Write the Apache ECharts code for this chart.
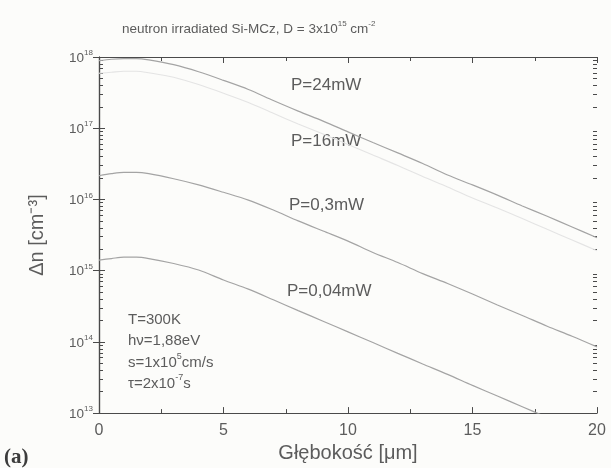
<!DOCTYPE html>
<html>
<head>
<meta charset="utf-8">
<script src="https://cdn.jsdelivr.net/npm/echarts@6/dist/echarts.min.js"></script>
<style>
html,body{margin:0;padding:0;background:#fcfcfa;}
#c{width:611px;height:468px;}
</style>
</head>
<body>
<div id="c"></div>
<script>
// depth [μm]
const depth = [0, 0.5, 1, 1.5, 2, 3, 4, 5, 6, 7, 8, 9, 10, 11, 12, 13, 14, 15, 16, 17, 18, 19, 20];
// Δn [cm^-3]
const p24mW = [8.9e17, 9.3e17, 9.5e17, 9.5e17, 9.1e17, 7.8e17, 6.2e17, 4.7e17, 3.5e17, 2.45e17, 1.74e17, 1.26e17, 8.9e16, 6.3e16, 4.5e16, 3.2e16, 2.2e16, 1.6e16, 1.15e16, 8.1e15, 5.8e15, 4.1e15, 2.9e15];
const p16mW = [5.9e17, 6.1e17, 6.3e17, 6.3e17, 6.0e17, 5.2e17, 4.1e17, 3.1e17, 2.3e17, 1.62e17, 1.15e17, 8.3e16, 5.9e16, 4.2e16, 3.0e16, 2.1e16, 1.5e16, 1.05e16, 7.6e15, 5.4e15, 3.8e15, 2.7e15, 1.9e15];
const p03mW = [2.15e16, 2.3e16, 2.4e16, 2.4e16, 2.3e16, 1.95e16, 1.6e16, 1.26e16, 9.8e15, 7.1e15, 5.0e15, 3.6e15, 2.6e15, 1.8e15, 1.3e15, 9.1e14, 6.6e14, 4.7e14, 3.3e14, 2.35e14, 1.66e14, 1.2e14, 8.5e13];
const p004mW = [1.41e15, 1.48e15, 1.55e15, 1.55e15, 1.48e15, 1.26e15, 1.02e15, 7.4e14, 5.5e14, 3.9e14, 2.75e14, 1.95e14, 1.38e14, 9.8e13, 6.9e13, 4.9e13, 3.5e13, 2.45e13, 1.74e13, 1.23e13, 8.7e12, null, null];
const seriesNames = ['P=24mW', 'P=16mW', 'P=0,3mW', 'P=0,04mW'];
const xTicks = [0, 5, 10, 15, 20];

const pairs = arr => depth.map((x, i) => [x, arr[i]]).filter(p => p[1] !== null);

// log-space minor tick positions (2..9 x 10^n)
const minorLog = [];
for (let d = 13; d < 18; d++) for (let m = 2; m <= 9; m++) minorLog.push(d + Math.log10(m));

const axisCol = '#4a4a4a';
const txtCol = '#5c5c5c';
const lineCol = '#a4a4a4';
const FF = 'Liberation Sans';
const axisRich = {
  b: {fontSize: 13.5, color: txtCol, fontFamily: FF, lineHeight: 16, verticalAlign: 'bottom'},
  s: {fontSize: 8, color: txtCol, fontFamily: FF, lineHeight: 16, verticalAlign: 'top'}
};
const gRich = {
  b: {fontSize: 15, fill: txtCol, fontFamily: FF, lineHeight: 18, verticalAlign: 'bottom'},
  s: {fontSize: 9, fill: txtCol, fontFamily: FF, lineHeight: 18, verticalAlign: 'top'}
};

const grid = {left: 99, right: 14, top: 57, bottom: 47};

const chart = echarts.init(document.getElementById('c'), null, {renderer: 'canvas'});
const baseY = {
  min: 1e13, max: 1e18, logBase: 10,
  axisLine: {show: true, lineStyle: {color: axisCol, width: 1.2}},
  splitLine: {show: false}
};
chart.setOption({
  backgroundColor: '#fcfcfa',
  animation: false,
  title: {
    text: '{a|neutron irradiated Si-MCz, D = 3x10}{s|15}{a| cm}{s|-2}',
    left: 117, top: 15,
    textStyle: {
      fontWeight: 'normal',
      rich: {
        a: {fontSize: 13.5, fontWeight: 'normal', color: txtCol, fontFamily: FF, lineHeight: 16, verticalAlign: 'bottom'},
        s: {fontSize: 8, fontWeight: 'normal', color: txtCol, fontFamily: FF, lineHeight: 16, verticalAlign: 'top'}
      }
    }
  },
  grid: grid,
  xAxis: [{
    type: 'value', min: 0, max: 20, interval: 5, position: 'bottom',
    axisLine: {show: true, onZero: false, lineStyle: {color: axisCol, width: 1.2}},
    axisTick: {show: true, inside: true, length: 6, lineStyle: {color: axisCol}},
    minorTick: {show: true, splitNumber: 2, length: 4, lineStyle: {color: axisCol}},
    splitLine: {show: false},
    axisLabel: {color: txtCol, fontSize: 16, fontFamily: FF, margin: 9,
      customValues: xTicks},
    name: 'Głębokość [μm]', nameLocation: 'middle', nameGap: 26,
    nameTextStyle: {color: txtCol, fontSize: 20, fontFamily: FF}
  }, {
    type: 'value', min: 0, max: 20, interval: 5, position: 'top',
    axisLine: {show: true, onZero: false, lineStyle: {color: axisCol, width: 1.2}},
    axisTick: {show: true, inside: true, length: 6, lineStyle: {color: axisCol}},
    minorTick: {show: true, splitNumber: 2, length: 4, lineStyle: {color: axisCol}},
    splitLine: {show: false},
    axisLabel: {show: false}
  }],
  yAxis: [Object.assign({}, baseY, {
    type: 'log', position: 'left',
    axisTick: {show: true, inside: true, length: 6, lineStyle: {color: axisCol}},
    axisLabel: {
      margin: 6,
      formatter: v => '{b|10}{s|' + Math.round(Math.log10(v)) + '}',
      rich: axisRich
    },
    name: 'Δn [cm⁻³]', nameLocation: 'middle', nameGap: 52, nameRotate: 90,
    nameTextStyle: {color: txtCol, fontSize: 20, fontFamily: FF}
  }), Object.assign({}, baseY, {
    type: 'log', position: 'right',
    axisTick: {show: true, inside: true, length: 6, lineStyle: {color: axisCol}},
    axisLabel: {show: false}
  }), {
    type: 'value', min: 13, max: 18, position: 'left',
    axisLine: {show: false}, splitLine: {show: false}, axisLabel: {show: false},
    axisTick: {show: true, inside: true, length: 4, customValues: minorLog, lineStyle: {color: axisCol}}
  }, {
    type: 'value', min: 13, max: 18, position: 'right',
    axisLine: {show: false}, splitLine: {show: false}, axisLabel: {show: false},
    axisTick: {show: true, inside: true, length: 4, customValues: minorLog, lineStyle: {color: axisCol}}
  }],
  series: [
    {name: seriesNames[0], data: pairs(p24mW), color: lineCol, lineWidth: 1.2},
    {name: seriesNames[1], data: pairs(p16mW), color: '#e4e4e4', lineWidth: 1.1},
    {name: seriesNames[2], data: pairs(p03mW), color: lineCol, lineWidth: 1.2},
    {name: seriesNames[3], data: pairs(p004mW), color: lineCol, lineWidth: 1.2}
  ].map(s => ({
    type: 'line', name: s.name, data: s.data, xAxisIndex: 0, yAxisIndex: 0,
    smooth: 0.3, showSymbol: false, clip: true,
    lineStyle: {color: s.color, width: s.lineWidth}
  })),
  graphic: [
    {type: 'text', left: 291, top: 77, style: {text: seriesNames[0], fill: txtCol, font: '17px "Liberation Sans"'}},
    {type: 'text', left: 291, top: 133, style: {text: seriesNames[1], fill: txtCol, font: '17px "Liberation Sans"'}},
    {type: 'text', left: 289, top: 197, style: {text: seriesNames[2], fill: txtCol, font: '17px "Liberation Sans"'}},
    {type: 'text', left: 287, top: 283, style: {text: seriesNames[3], fill: txtCol, font: '17px "Liberation Sans"'}},
    {type: 'text', left: 128, top: 312, style: {text: 'T=300K', fill: txtCol, font: '15px "Liberation Sans"'}},
    {type: 'text', left: 128, top: 333, style: {text: 'hν=1,88eV', fill: txtCol, font: '15px "Liberation Sans"'}},
    {type: 'text', left: 128, top: 352, style: {text: '{b|s=1x10}{s|5}{b|cm/s}', rich: gRich}},
    {type: 'text', left: 128, top: 373, style: {text: '{b|τ=2x10}{s|-7}{b|s}', rich: gRich}},
    {type: 'text', left: 4, top: 447, style: {text: '(a)', fill: '#3c3c3c', font: 'bold 21px "Liberation Serif"'}}
  ]
});
</script>
</body>
</html>
